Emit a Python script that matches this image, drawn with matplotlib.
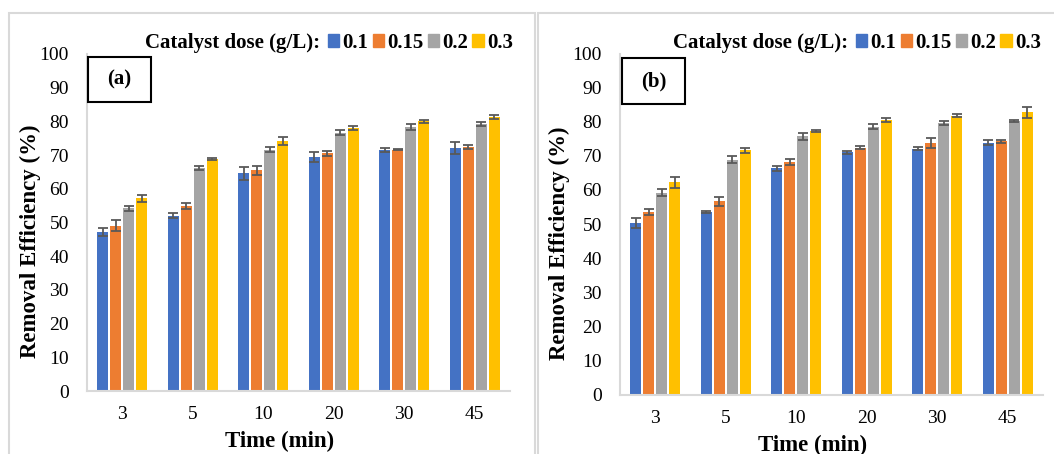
import numpy as np
import matplotlib
matplotlib.use("Agg")
import matplotlib.pyplot as plt
from matplotlib.patches import Patch, Rectangle

plt.rcParams["font.family"] = ["Liberation Serif", "DejaVu Serif"]

times = ["3", "5", "10", "20", "30", "45"]
doses = ["0.1", "0.15", "0.2", "0.3"]
colors = ["#4472C4", "#ED7D31", "#A5A5A5", "#FFC000"]

# panel (a)
a_vals = [
    [47.2, 52.0, 64.6, 69.5, 71.5, 72.2],
    [49.0, 54.9, 65.5, 70.6, 71.6, 72.4],
    [54.2, 66.3, 71.6, 76.7, 78.4, 79.3],
    [57.2, 68.8, 74.2, 78.1, 80.0, 81.3],
]
a_err = [
    [1.3, 0.8, 2.0, 1.4, 0.5, 1.8],
    [1.6, 0.9, 1.4, 0.75, 0.15, 0.45],
    [0.75, 0.6, 0.7, 0.75, 0.9, 0.65],
    [1.0, 0.2, 1.1, 0.65, 0.4, 0.6],
]

# panel (b)
b_vals = [
    [50.4, 53.5, 66.3, 71.0, 72.1, 73.9],
    [53.5, 56.7, 68.2, 72.4, 73.7, 74.2],
    [59.2, 68.8, 75.7, 78.5, 79.6, 80.2],
    [62.2, 71.6, 77.3, 80.5, 81.8, 82.7],
]
b_err = [
    [1.5, 0.4, 0.7, 0.5, 0.4, 0.7],
    [0.85, 1.3, 1.0, 0.5, 1.4, 0.4],
    [1.0, 1.0, 1.1, 0.7, 0.7, 0.35],
    [1.5, 0.8, 0.4, 0.5, 0.35, 1.5],
]

W, H = 1054, 454
fig = plt.figure(figsize=(W / 100, H / 100), dpi=100)

# light gray panel frames
for x0, x1 in [(9, 535), (538, 1060)]:
    fig.patches.append(Rectangle((x0 / W, -0.05), (x1 - x0) / W, (H - 13) / H + 0.05,
                                 transform=fig.transFigure, fill=False,
                                 edgecolor="#d9d9d9", linewidth=1.5))


def draw_panel(rect, vals, errs, tag, label_x, legend_x, box):
    ax = fig.add_axes(rect)
    x = np.arange(len(times))
    slot, bw = 0.185, 0.152
    for i, (v, e) in enumerate(zip(vals, errs)):
        pos = x + (i - 1.5) * slot
        ax.bar(pos, v, width=bw, color=colors[i], zorder=2)
        ax.errorbar(pos, v, yerr=e, fmt="none", ecolor="#595959",
                    elinewidth=1.3, capsize=3.6, capthick=1.3, zorder=3)
    ax.set_xlim(-0.5, 5.5)
    ax.set_ylim(0, 100)
    ax.set_yticks(range(0, 101, 10))
    ax.set_xticks(x)
    ax.set_xticklabels(times)
    ax.tick_params(length=0, labelsize=14)
    ax.tick_params(axis="y", pad=13)
    ax.tick_params(axis="x", pad=11)
    for s in ["top", "right"]:
        ax.spines[s].set_visible(False)
    for s in ["left", "bottom"]:
        ax.spines[s].set_color("#d9d9d9")
        ax.spines[s].set_linewidth(1.5)
    ax.set_ylabel("Removal Efficiency (%)", fontsize=16.5, fontweight="bold")
    ax.yaxis.set_label_coords(label_x, 0.445)
    ax.set_xlabel("Time (min)", fontsize=16.5, fontweight="bold")
    ax.xaxis.set_label_coords(0.455, -0.118)

    # panel tag box
    bx0, by0, bx1, by1 = box
    fig.patches.append(Rectangle((bx0 / W, 1 - by1 / H), (bx1 - bx0) / W, (by1 - by0) / H,
                                 transform=fig.transFigure, fill=False,
                                 edgecolor="black", linewidth=1.5, zorder=5))
    fig.text((bx0 + bx1) / 2 / W, 1 - (by0 + by1) / 2 / H, tag, ha="center",
             va="center", fontsize=15, fontweight="bold")

    # legend
    fig.text(legend_x / W, 1 - 43 / H, "Catalyst dose (g/L):", ha="left",
             va="center", fontsize=15, fontweight="bold")
    handles = [Patch(color=c) for c in colors]
    fig.legend(handles, doses, loc="center left",
               bbox_to_anchor=((legend_x + 183) / W, 1 - 43 / H), ncol=4,
               frameon=False, handlelength=0.55, handleheight=0.55,
               handletextpad=0.15, columnspacing=0.2, borderpad=0,
               borderaxespad=0, prop={"size": 15, "weight": "bold"})
    return ax


draw_panel([87 / W, (H - 391) / H, 423 / W, 337 / H], a_vals, a_err, "(a)",
           -0.108, 145, (88, 57, 151, 102))
draw_panel([620 / W, (H - 394.5) / H, 423 / W, 341 / H], b_vals, b_err, "(b)",
           -0.118, 673, (622, 58, 685, 104))

fig.savefig("out.png", dpi=100)
